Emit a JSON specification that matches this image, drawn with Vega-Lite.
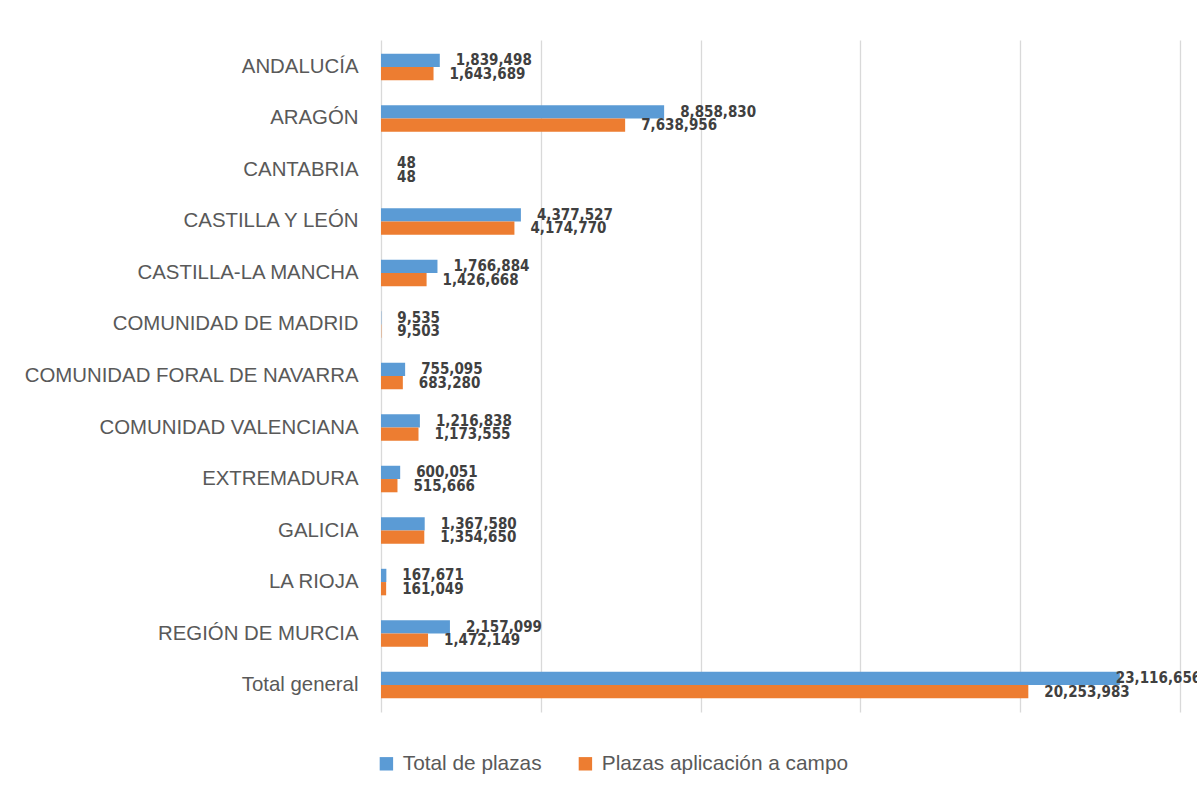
{
  "$schema": "https://vega.github.io/schema/vega-lite/v6.json",
  "width": 799,
  "height": 672,
  "autosize": {"type": "none"},
  "padding": {"left": 381, "top": 40, "right": 17, "bottom": 81},
  "background": "white",
  "config": {
    "view": {"stroke": null},
    "font": "Liberation Sans"
  },
  "data": {
    "values": [
      {"region": "ANDALUCÍA", "serie": "Total de plazas", "value": 1839498},
      {"region": "ANDALUCÍA", "serie": "Plazas aplicación a campo", "value": 1643689},
      {"region": "ARAGÓN", "serie": "Total de plazas", "value": 8858830},
      {"region": "ARAGÓN", "serie": "Plazas aplicación a campo", "value": 7638956},
      {"region": "CANTABRIA", "serie": "Total de plazas", "value": 48},
      {"region": "CANTABRIA", "serie": "Plazas aplicación a campo", "value": 48},
      {"region": "CASTILLA Y LEÓN", "serie": "Total de plazas", "value": 4377527},
      {"region": "CASTILLA Y LEÓN", "serie": "Plazas aplicación a campo", "value": 4174770},
      {"region": "CASTILLA-LA MANCHA", "serie": "Total de plazas", "value": 1766884},
      {"region": "CASTILLA-LA MANCHA", "serie": "Plazas aplicación a campo", "value": 1426668},
      {"region": "COMUNIDAD DE MADRID", "serie": "Total de plazas", "value": 9535},
      {"region": "COMUNIDAD DE MADRID", "serie": "Plazas aplicación a campo", "value": 9503},
      {"region": "COMUNIDAD FORAL DE NAVARRA", "serie": "Total de plazas", "value": 755095},
      {"region": "COMUNIDAD FORAL DE NAVARRA", "serie": "Plazas aplicación a campo", "value": 683280},
      {"region": "COMUNIDAD VALENCIANA", "serie": "Total de plazas", "value": 1216838},
      {"region": "COMUNIDAD VALENCIANA", "serie": "Plazas aplicación a campo", "value": 1173555},
      {"region": "EXTREMADURA", "serie": "Total de plazas", "value": 600051},
      {"region": "EXTREMADURA", "serie": "Plazas aplicación a campo", "value": 515666},
      {"region": "GALICIA", "serie": "Total de plazas", "value": 1367580},
      {"region": "GALICIA", "serie": "Plazas aplicación a campo", "value": 1354650},
      {"region": "LA RIOJA", "serie": "Total de plazas", "value": 167671},
      {"region": "LA RIOJA", "serie": "Plazas aplicación a campo", "value": 161049},
      {"region": "REGIÓN DE MURCIA", "serie": "Total de plazas", "value": 2157099},
      {"region": "REGIÓN DE MURCIA", "serie": "Plazas aplicación a campo", "value": 1472149},
      {"region": "Total general", "serie": "Total de plazas", "value": 23116656},
      {"region": "Total general", "serie": "Plazas aplicación a campo", "value": 20253983}
    ]
  },
  "encoding": {
    "y": {
      "field": "region",
      "type": "nominal",
      "sort": null,
      "scale": {"paddingInner": 0.485, "paddingOuter": 0.265},
      "axis": {
        "title": null,
        "domain": false,
        "ticks": false,
        "labelFont": "Liberation Sans",
        "labelFontSize": 20.4,
        "labelColor": "#595959",
        "labelPadding": 23,
        "labelLimit": 400
      }
    },
    "x": {
      "field": "value",
      "type": "quantitative",
      "scale": {"domain": [0, 25000000], "nice": false},
      "axis": {
        "title": null,
        "values": [0, 5000000, 10000000, 15000000, 20000000, 25000000],
        "labels": false,
        "ticks": false,
        "domain": false,
        "grid": true,
        "gridColor": "#D9D9D9",
        "gridWidth": 1.3
      }
    },
    "yOffset": {
      "field": "serie",
      "type": "nominal",
      "sort": ["Total de plazas", "Plazas aplicación a campo"]
    }
  },
  "layer": [
    {
      "mark": {"type": "bar"},
      "encoding": {
        "color": {
          "field": "serie",
          "type": "nominal",
          "sort": ["Total de plazas", "Plazas aplicación a campo"],
          "scale": {
            "domain": ["Total de plazas", "Plazas aplicación a campo"],
            "range": ["#5B9BD5", "#ED7D31"]
          },
          "legend": {
            "title": null,
            "orient": "none",
            "direction": "horizontal",
            "legendX": -5,
            "legendY": 713,
            "symbolType": "square",
            "symbolSize": 180,
            "symbolStrokeWidth": 0,
            "labelFont": "Liberation Sans",
            "labelFontSize": 20.8,
            "labelColor": "#595959",
            "labelOffset": 6,
            "columnPadding": 33,
            "labelLimit": 400
          }
        }
      }
    },
    {
      "transform": [{"filter": "!(datum.region === 'Total general' && datum.serie === 'Total de plazas')"}],
      "mark": {
        "type": "text",
        "align": "left",
        "baseline": "middle",
        "dx": 16,
        "font": "DejaVu Sans Condensed",
        "fontWeight": "bold",
        "fontSize": 15,
        "color": "#404040"
      },
      "encoding": {
        "text": {"field": "value", "type": "quantitative", "format": ",d"}
      }
    },
    {
      "transform": [{"filter": "datum.region === 'Total general' && datum.serie === 'Total de plazas'"}],
      "mark": {
        "type": "text",
        "align": "left",
        "baseline": "middle",
        "dx": -4,
        "font": "DejaVu Sans Condensed",
        "fontWeight": "bold",
        "fontSize": 15,
        "color": "#404040"
      },
      "encoding": {
        "text": {"field": "value", "type": "quantitative", "format": ",d"}
      }
    }
  ]
}
